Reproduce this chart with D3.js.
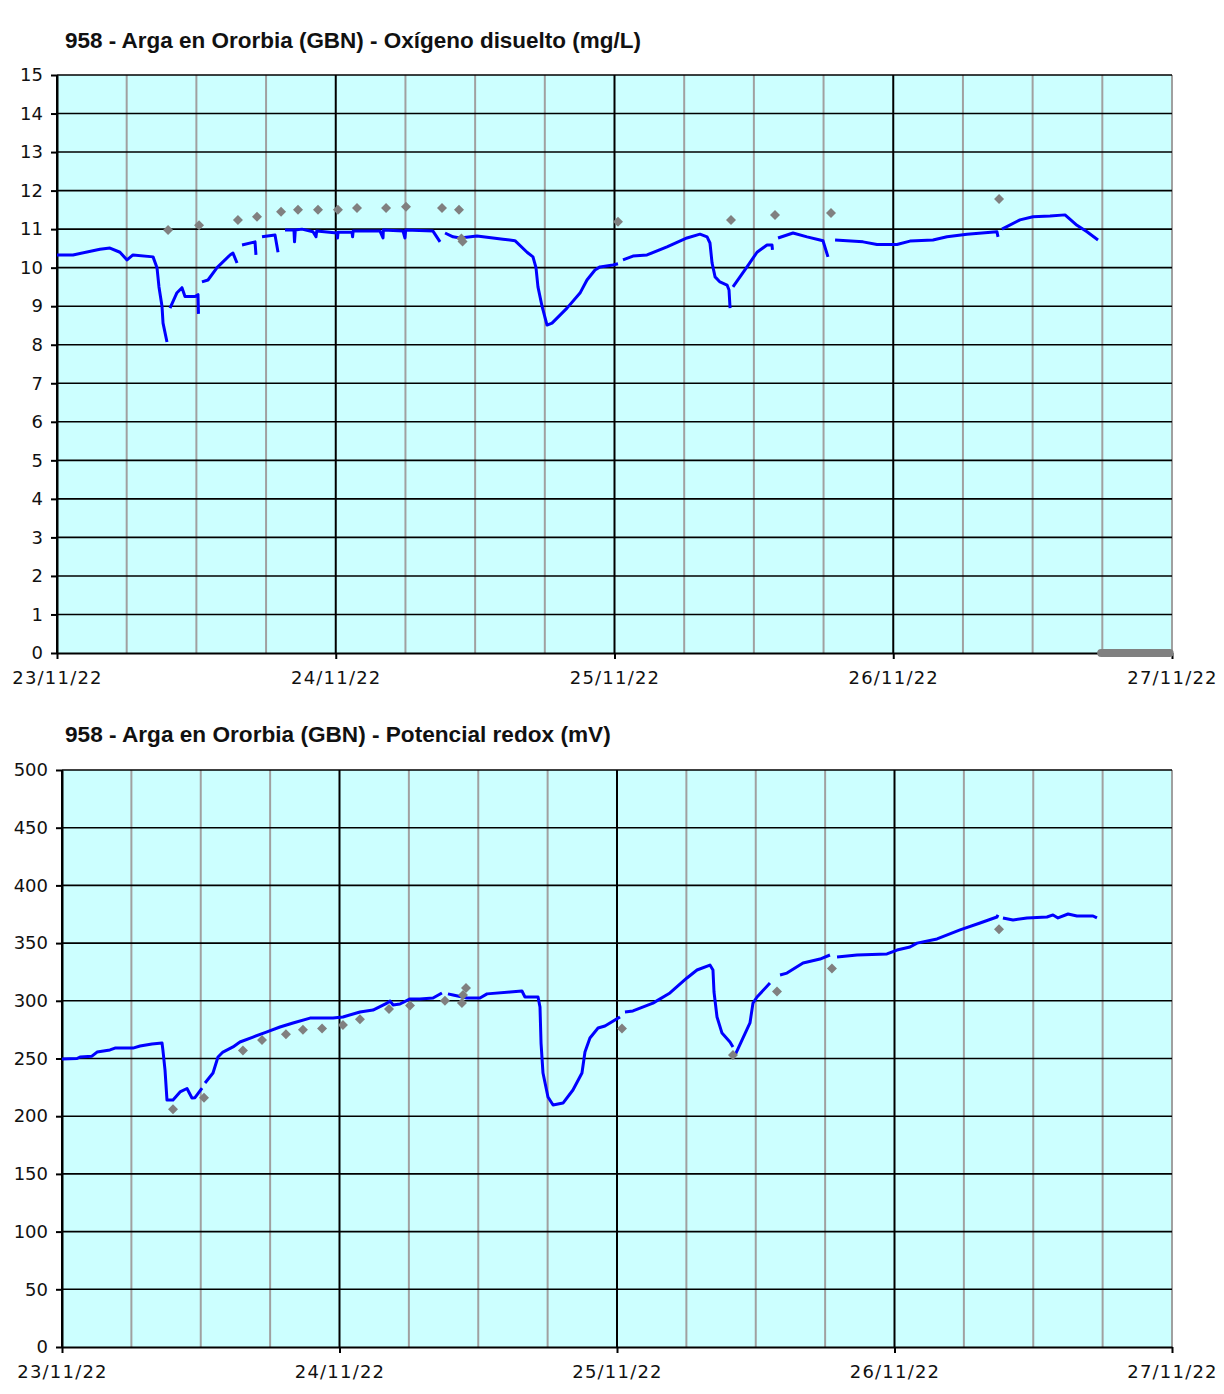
<!DOCTYPE html>
<html>
<head>
<meta charset="utf-8">
<script src="https://cdn.jsdelivr.net/npm/d3@7"></script>
<style>
  body { margin: 0; background: #fff; }
  svg { display: block; }
  .tick text { font-family: "DejaVu Sans", Verdana, sans-serif; font-size: 18px; fill: #111; }
  .eje-x .tick text { letter-spacing: 1.2px; }
  .titulo { font-family: "Liberation Sans", Arial, sans-serif; font-weight: bold; font-size: 22px; fill: #111; }
</style>
</head>
<body>
<svg id="chart" width="1224" height="1394"></svg>
<script>
// horas desde 23/11/22 00:00 , valor  (null = hueco en la serie)
const oxigeno = [
  [0,10.33],[1.38,10.33],[3.70,10.48],[4.56,10.51],[5.42,10.40],[6.03,10.20],[6.54,10.33],[8.27,10.28],
  [8.61,10.0],[8.78,9.5],[9.04,9.0],[9.13,8.56],[9.47,8.07],null,
  [9.73,8.95],[10.33,9.35],[10.76,9.48],[11.02,9.25],[11.88,9.25],[12.14,9.30],[12.18,8.8],null,
  [12.48,9.63],[13.00,9.68],[13.78,10.0],[14.90,10.33],[15.15,10.38],[15.50,10.12],null,
  [15.93,10.59],[17.05,10.67],[17.13,10.33],null,
  [17.65,10.80],[18.77,10.85],[19.03,10.40],null,
  [19.63,10.98],[20.40,10.98],[20.45,10.67],[20.52,10.98],[21.09,11.0],[22.04,10.93],[22.30,10.80],
  [22.36,10.95],[24.11,10.90],[24.15,10.77],[24.20,10.92],[25.40,10.92],[25.45,10.80],[25.50,10.95],
  [27.81,10.95],[28.07,10.77],[28.10,10.98],[29.79,10.95],[29.96,10.77],[30.02,10.98],[32.37,10.95],
  [32.98,10.67],null,
  [33.41,10.90],[34.10,10.80],[34.70,10.77],[36.16,10.82],[38.40,10.74],[39.43,10.70],[40.47,10.40],
  [40.98,10.28],[41.24,10.0],[41.41,9.5],[41.76,9.0],[42.19,8.51],[42.62,8.56],[43.91,8.95],[45.03,9.34],
  [45.63,9.68],[46.32,9.94],[46.75,10.02],[47.87,10.07],[48.30,10.10],null,
  [48.73,10.20],[49.59,10.30],[50.80,10.33],[52.52,10.54],[54.24,10.77],[55.36,10.87],[55.97,10.80],
  [56.22,10.64],[56.40,10.12],[56.66,9.76],[57.08,9.63],[57.69,9.55],[57.86,9.42],[57.95,8.95],null,
  [58.20,9.50],[59.41,10.02],[60.27,10.40],[61.13,10.59],[61.56,10.59],[61.60,10.46],null,
  [62.08,10.77],[63.37,10.90],[64.58,10.80],[65.69,10.72],[65.95,10.70],[66.38,10.28],null,
  [66.99,10.72],[69.40,10.67],[70.60,10.60],[72.32,10.60],[73.44,10.69],[75.42,10.72],[76.63,10.80],
  [78.35,10.87],[80.93,10.93],[81.02,10.80],null,
  [81.36,11.0],[82.91,11.24],[84.03,11.32],[85.50,11.34],[86.79,11.37],[87.82,11.10],[88.68,10.93],[89.63,10.72]
];
const oxigenoLab = [
  [9.56,10.98],[12.23,11.10],[15.58,11.24],[17.22,11.32],[19.29,11.45],[20.75,11.50],[22.47,11.50],
  [24.19,11.50],[25.83,11.55],[28.33,11.55],[30.05,11.58],[33.15,11.55],[34.61,11.50],[34.82,10.76],
  [34.92,10.68],[48.30,11.19],[58.03,11.24],[61.82,11.37],[66.64,11.42],[81.11,11.78]
];
// tramo de datos a cero al final de la serie de laboratorio
const oxigenoCero = [89.9, 95.8];

const redox = [
  [0,249.6],[1.30,250],[1.56,251.3],[2.59,252],[3.03,255.6],[4.15,257.4],[4.58,259],[6.14,259],[6.75,260.8],
  [7.78,262.6],[8.65,263.4],[8.73,257],[8.91,240],[9.08,214],[9.60,214],[10.21,221],[10.81,224],[11.24,215.8],
  [11.50,216],[12.11,224.4],null,
  [12.37,228.8],[13.06,237.4],[13.49,251.3],[13.92,255.6],[14.79,260],[15.39,264.3],[16.52,268.6],[17.73,273],
  [18.85,277.3],[19.98,280.8],[21.45,285],[23.44,285],[24.30,286],[25.77,290.3],[26.90,292],[28.11,298],
  [28.37,299.8],[28.63,296.4],[29.23,297.2],[30.10,301.6],[30.96,301.6],[32.09,302.4],[32.86,306.8],null,
  [33.38,306],[33.82,305],[35.03,302.4],[36.15,302.4],[36.76,306],[38.75,307.6],[39.78,308.5],[40.04,303.3],
  [41.17,303.3],[41.34,294.6],[41.43,263.4],[41.60,237.4],[42.03,216.6],[42.47,209.7],[43.33,211.4],
  [44.19,222.7],[44.97,237.4],[45.23,255.6],[45.66,267.8],[46.36,276.4],[46.96,278.2],[48.26,286],null,
  [48.69,290.3],[49.38,291.2],[51.11,298],[52.58,306.8],[54.05,319.8],[54.92,326.7],[56.04,331],[56.30,326.7],
  [56.39,307.6],[56.65,286],[57.08,272],[57.77,264.3],[58.03,260],null,
  [58.21,253],[58.81,266],[59.50,280.8],[59.76,298],[60.11,303.3],[61.23,315.4],null,
  [62.10,322.4],[62.70,324],[64.09,332.8],[65.56,336.2],[66.42,339.7],null,
  [67.03,338],[68.76,339.7],[71.35,340.6],[72.22,344],[73.34,346.6],[73.95,350],[75.68,353.6],[77.67,361.4],
  [79.40,367.4],[80.86,372.6],[80.95,374.4],null,
  [81.38,371.8],[82.25,370],[83.46,371.8],[85.19,372.6],[85.71,374.4],[86.14,371.8],[87.01,375.2],
  [87.78,373.5],[89.17,373.5],[89.51,371.8]
];
const redoxLab = [
  [9.60,206],[12.28,216],[15.65,257],[17.30,266],[19.37,271],[20.84,275],[22.49,276],[24.30,279],
  [25.77,284],[28.28,293],[30.10,296],[33.12,300],[34.59,298],[34.68,305],[34.94,311],[48.43,276],
  [58.03,253],[61.84,308],[66.59,328],[81.04,362]
];

const t0 = new Date(2022, 10, 23);
const t1 = new Date(2022, 10, 27);
const toDate = h => new Date(t0.getTime() + h * 3600e3);

const svg = d3.select("#chart");

function dibujar(cfg) {
  const x = d3.scaleTime().domain([t0, t1]).range([cfg.left, cfg.right]);
  const y = d3.scaleLinear().domain([0, cfg.yMax]).range([cfg.bottom, cfg.top]);
  const g = svg.append("g");

  const titulo = g.append("text").attr("class", "titulo")
    .attr("x", 65).attr("y", cfg.titleY)
    .text(cfg.title);
  // ajustar el tamaño para que el título ocupe lo mismo que en el original
  const len = titulo.node().getComputedTextLength();
  titulo.style("font-size", (22 * cfg.titleW / len).toFixed(2) + "px");

  g.append("rect")
    .attr("x", cfg.left).attr("y", cfg.top)
    .attr("width", cfg.right - cfg.left).attr("height", cfg.bottom - cfg.top)
    .attr("fill", "#ccffff");

  // rejilla vertical cada 6 horas
  const horas = d3.timeHour.every(6).range(t0, d3.timeHour.offset(t1, 1));
  g.selectAll("line.v").data(horas).join("line")
    .attr("class", "v")
    .attr("x1", d => x(d)).attr("x2", d => x(d))
    .attr("y1", cfg.top).attr("y2", cfg.bottom)
    .attr("stroke", d => (d.getHours() === 0 && +d !== +t1) ? "#000" : "#a0a0a0")
    .attr("stroke-width", 2);

  const yTicks = d3.range(0, cfg.yMax + 1, cfg.yStep);
  g.selectAll("line.h").data(yTicks.slice(1)).join("line")
    .attr("class", "h")
    .attr("x1", cfg.left).attr("x2", cfg.right)
    .attr("y1", d => y(d)).attr("y2", d => y(d))
    .attr("stroke", "#000")
    .attr("stroke-width", 1.6);

  const ya = g.append("g")
    .attr("transform", `translate(${cfg.left},0)`)
    .call(d3.axisLeft(y).tickValues(yTicks).tickSize(6).tickSizeOuter(0).tickPadding(8));
  const xa = g.append("g")
    .attr("class", "eje-x")
    .attr("transform", `translate(0,${cfg.bottom})`)
    .call(d3.axisBottom(x).ticks(d3.timeDay.every(1)).tickFormat(d3.timeFormat("%d/%m/%y"))
      .tickSize(6).tickSizeOuter(0).tickPadding(12));
  [ya, xa].forEach(a => {
    a.select(".domain").attr("stroke", "#000").attr("stroke-width", 2);
    a.selectAll(".tick line").attr("stroke", "#000").attr("stroke-width", 2);
  });

  if (cfg.cero) {
    g.append("line")
      .attr("x1", x(toDate(cfg.cero[0]))).attr("x2", x(toDate(cfg.cero[1])))
      .attr("y1", y(0)).attr("y2", y(0))
      .attr("stroke", "#808080").attr("stroke-width", 8).attr("stroke-linecap", "round");
  }

  const linea = d3.line()
    .defined(d => d !== null)
    .x(d => x(toDate(d[0])))
    .y(d => y(d[1]));

  g.append("path")
    .datum(cfg.serie)
    .attr("d", linea)
    .attr("fill", "none")
    .attr("stroke", "#0000ff")
    .attr("stroke-width", 3)
    .attr("stroke-linejoin", "round");

  g.selectAll("path.lab").data(cfg.lab).join("path")
    .attr("class", "lab")
    .attr("d", d3.symbol(d3.symbolSquare, 50))
    .attr("transform", d => `translate(${x(toDate(d[0]))},${y(d[1])}) rotate(45)`)
    .attr("fill", "#808080");
}

dibujar({
  title: "958 - Arga en Ororbia (GBN) - Oxígeno disuelto (mg/L)",
  titleY: 48, titleW: 576, left: 57, right: 1172, top: 75, bottom: 653,
  yMax: 15, yStep: 1,
  serie: oxigeno, lab: oxigenoLab, cero: oxigenoCero
});

dibujar({
  title: "958 - Arga en Ororbia (GBN) - Potencial redox (mV)",
  titleY: 742, titleW: 546, left: 62, right: 1172, top: 770, bottom: 1347,
  yMax: 500, yStep: 50,
  serie: redox, lab: redoxLab
});
</script>
</body>
</html>
